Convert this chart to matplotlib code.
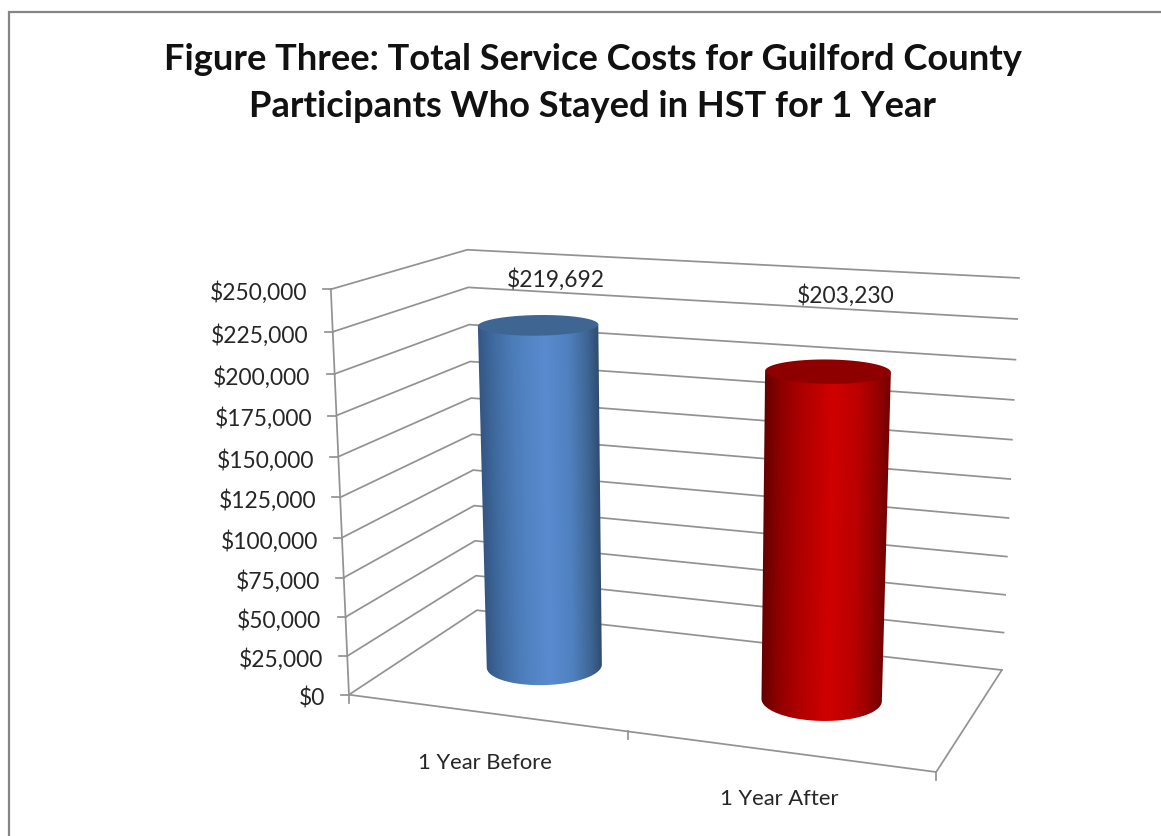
import numpy as np
import matplotlib
matplotlib.use("Agg")
import matplotlib.pyplot as plt
from matplotlib.patches import Polygon

# chart data
categories = ["1 Year Before", "1 Year After"]
costs = [219692, 203230]
axis_ticks = [0, 25000, 50000, 75000, 100000, 125000, 150000, 175000, 200000, 225000, 250000]
title_lines = ["Figure Three: Total Service Costs for Guilford County",
               "Participants Who Stayed in HST for 1 Year"]

axis_max = 250000
GRAY = "#929292"
TEXT = "#262626"
W, H = 1161, 837

# colours across the cylinder from left edge to right edge
shade_pos = [0.0, 0.12, 0.3, 0.55, 0.75, 0.9, 1.0]
blue_shades = ["#345684", "#3f6a9f", "#4d7ebb", "#5a8bd0", "#4f80bf", "#3f6796", "#2f4c70"]
red_shades = ["#640000", "#8a0000", "#ae0000", "#d00000", "#bb0000", "#960000", "#740000"]
cap_colors = ["#3f6593", "#8e0000"]
bar_shades = [blue_shades, red_shades]

# perspective of the 3D box: (x, depth, height) -> pixel, fitted on the box corners
box_3d = [(0, 0, 0), (0, 0, 1), (0, 1, 0), (0, 1, 1), (1, 1, 0), (1, 1, 1), (1, 0, 0)]
box_px = [(349, 696), (331, 290), (477, 611), (467, 251), (1002, 671), (1019, 279), (936, 773)]


def fit_camera(pts3, pts2):
    A, b = [], []
    for (x, d, z), (u, v) in zip(pts3, pts2):
        A.append([x, d, z, 1, 0, 0, 0, 0, -u * x, -u * d, -u * z])
        A.append([0, 0, 0, 0, x, d, z, 1, -v * x, -v * d, -v * z])
        b += [u, v]
    p = np.linalg.lstsq(np.array(A, float), np.array(b, float), rcond=None)[0]
    return np.append(p, 1).reshape(3, 4)


CAM = fit_camera(box_3d, box_px)


def project(x, d, value):
    x, d, value = np.broadcast_arrays(x, d, np.asarray(value, float) / axis_max)
    q = CAM @ np.stack([x, d, value, np.ones_like(x, dtype=float)])
    return q[0] / q[2], q[1] / q[2]


def shade(colors, u):
    rgb = np.array([matplotlib.colors.to_rgb(c) for c in colors])
    return np.stack([np.interp(u, shade_pos, rgb[:, i]) for i in range(3)], axis=-1)


def front_arc(px, py):
    # lower half of a projected ellipse, ordered from its left to its right end
    left, right = np.argmin(px), np.argmax(px)
    chord = np.interp(px, [px[left], px[right]], [py[left], py[right]])
    keep = py >= chord
    order = np.argsort(px[keep])
    return px[keep][order], py[keep][order]


def draw_cylinder(ax, x0, d0, value, colors, cap):
    t = np.linspace(0, 2 * np.pi, 1441)
    xs = x0 + R_X * np.cos(t)
    ds = d0 + R_D * np.sin(t)
    bx, by = project(xs, ds, 0)
    tx, ty = project(xs, ds, value)
    arc_bx, arc_by = front_arc(bx, by)
    arc_tx, arc_ty = front_arc(tx, ty)
    # the wall runs up to the chord of the top ellipse, the cap is painted over it
    outline = np.r_[np.c_[arc_bx, arc_by], [[arc_tx[-1], arc_ty[-1]], [arc_tx[0], arc_ty[0]]]]

    # horizontal gradient between the two slanted silhouette lines
    x0_img, x1_img = outline[:, 0].min() - 2, outline[:, 0].max() + 2
    y0_img, y1_img = outline[:, 1].min() - 2, outline[:, 1].max() + 2
    gx, gy = np.meshgrid(np.linspace(x0_img, x1_img, 400), np.linspace(y0_img, y1_img, 300))
    frac = (arc_by[0] - gy) / (arc_by[0] - arc_ty[0])
    left = arc_bx[0] + frac * (arc_tx[0] - arc_bx[0])
    right = arc_bx[-1] + frac * (arc_tx[-1] - arc_bx[-1])
    img = shade(colors, np.clip((gx - left) / (right - left), 0, 1))
    im = ax.imshow(img, extent=[x0_img, x1_img, y1_img, y0_img], aspect="auto",
                   interpolation="bilinear", zorder=4)
    im.set_clip_path(Polygon(outline, closed=True, transform=ax.transData))
    ax.add_patch(Polygon(np.c_[tx, ty], closed=True, fc=cap, ec="none", zorder=5))


R_X = 0.0995
R_D = 0.205
bar_x = [0.247, 0.748]
bar_d = 0.5

plt.rcParams["font.family"] = ["Lato", "DejaVu Sans"]
fig = plt.figure(figsize=(W / 100, H / 100), dpi=100)
ax = fig.add_axes([0, 0, 1, 1])
ax.axis("off")

# chart frame, cut off on the right and at the bottom
ax.plot([8.5, 8.5, W], [H, 12.5, 12.5], color="#858585", lw=1.6, solid_joinstyle="miter")

for i, line in enumerate(title_lines):
    ax.text(592.5, 59 + 47 * i, line, ha="center", va="center", fontsize=26.1,
            fontweight="bold", color="#111111")

# gridlines on the left and back walls
lw = 1.25
for v in axis_ticks:
    x1, y1 = project(0, 0, v)
    x2, y2 = project(0, 1, v)
    x3, y3 = project(1, 1, v)
    ax.plot([x1, x2, x3], [y1, y2, y3], color=GRAY, lw=lw, zorder=1)
    ax.plot([x1 - 8, x1], [y1, y1], color=GRAY, lw=lw, zorder=1)
    ax.text(x1 - 24, y1 + 2.5, f"${v:,.0f}", ha="right", va="center", fontsize=16.4, color=TEXT)

# value axis and floor edges
x, y = project([0, 0], [0, 0], [0, axis_max])
ax.plot(x, y, color=GRAY, lw=lw, zorder=1)
x, y = project([0, 1, 1], [0, 0, 1], [0, 0, 0])
ax.plot(x, y, color=GRAY, lw=lw, zorder=1)
for tick_x in [0, 0.5, 1]:
    x, y = project(tick_x, 0, 0)
    ax.plot([x, x], [y, y + 8], color=GRAY, lw=lw, zorder=1)

for i, value in enumerate(costs):
    draw_cylinder(ax, bar_x[i], bar_d, value, bar_shades[i], cap_colors[i])

# data labels and category labels
label_pos = [(556, 280), (846, 296)]
cat_pos = [(484.5, 763), (779, 799)]
for i, value in enumerate(costs):
    ax.text(*label_pos[i], f"${value:,.0f}", ha="center", va="center", fontsize=16.4, color=TEXT)
    ax.text(*cat_pos[i], categories[i], ha="center", va="center", fontsize=15.8, color=TEXT)

# imshow resets the limits, so set the pixel coordinates last
ax.set_xlim(0, W)
ax.set_ylim(H, 0)

fig.savefig("out.png", dpi=100)
